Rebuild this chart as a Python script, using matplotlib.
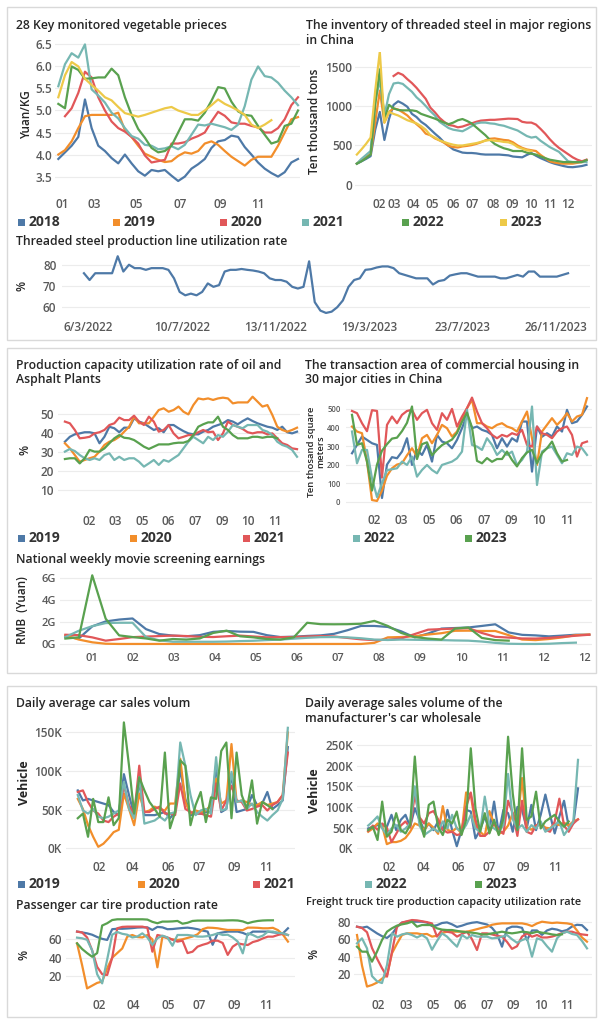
import numpy as np
import matplotlib
matplotlib.use('Agg')
import matplotlib.pyplot as plt
from matplotlib.patches import Rectangle

W, H = 603, 1024
plt.rcParams['font.family'] = ['Open Sans', 'DejaVu Sans']

C18, C19, C20, C21, C22, C23 = '#4e79a7', '#f28e2b', '#e15759', '#76b7b2', '#59a14f', '#edc948'
TICK = '#595959'

# ---- 28 key vegetable prices (Yuan/KG) ----
veg_2018 = [3.9, 4.05, 4.2, 4.4, 5.25, 4.6, 4.2, 4.08, 3.92, 3.8, 4.0, 3.8, 3.62, 3.52, 3.65, 3.62, 3.65, 3.52, 3.4,
            3.5, 3.68, 3.78, 3.9, 4.15, 4.3, 4.33, 4.43, 4.4, 4.17, 4.0, 3.82, 3.68, 3.58, 3.5, 3.6, 3.82, 3.9]
veg_2019 = [4.0, 4.1, 4.3, 4.6, 4.87, 4.9, 4.9, 4.9, 4.9, 4.95, 4.55, 4.4, 4.2, 4.02, 3.95, 3.88, 3.83, 3.85, 3.97,
            4.05, 4.02, 4.08, 4.25, 4.3, 4.22, 4.08, 3.95, 3.85, 3.75, 3.88, 3.95, 3.95, 3.95, 4.2, 4.5, 4.8, 4.85]
veg_2020 = [4.87, 5.05, 5.4, 5.88, 5.75, 5.3, 5.0, 4.75, 4.6, 4.52, 4.4, 4.25, 3.98, 3.82, 3.85, 3.88, 4.25, 4.25,
            4.28, 4.36, 4.42, 4.5, 4.75, 4.97, 4.88, 4.73, 4.7, 4.7, 4.65, 4.62, 4.5, 4.5, 4.6, 4.8, 5.12, 5.3]
veg_2021 = [5.55, 6.05, 6.3, 6.2, 6.5, 5.48, 5.34, 5.18, 4.95, 4.82, 4.6, 4.42, 4.36, 4.22, 4.2, 4.12, 4.14, 4.19,
            4.12, 4.22, 4.45, 4.68, 4.66, 4.7, 4.66, 4.62, 4.56, 4.68, 5.1, 5.7, 6.0, 5.78, 5.75, 5.63, 5.45, 5.3, 5.12]
veg_2022 = [5.15, 5.05, 6.0, 5.92, 5.72, 5.73, 5.75, 5.75, 5.95, 5.8, 5.3, 4.9, 4.58, 4.38, 4.15, 4.05, 4.08, 4.2,
            4.5, 4.8, 4.8, 4.77, 4.95, 5.22, 5.53, 5.5, 5.2, 4.98, 4.9, 4.88, 4.65, 4.45, 4.25, 4.3, 4.65, 4.7, 5.0]
veg_2023 = [5.3, 5.8, 6.1, 6.0, 5.72, 5.58, 5.45, 5.3, 5.23, 5.08, 4.94, 4.9, 4.86, 4.9, 4.95, 5.0, 5.05, 5.08, 5.0,
            4.95, 4.9, 4.9, 5.0, 5.12, 5.25, 5.15, 5.08, 5.0, 4.9, 4.68, 4.6, 4.68, 4.78]
veg_ticks = [0.65, 5.4, 11.65, 18.25, 24.25, 29.9]
veg_tick_labels = ['01', '03', '05', '07', '09', '11']

# ---- threaded steel inventory (ten thousand tons) ----
inv_2018 = [270, 300, 330, 365, 700, 925, 570, 835, 1015, 1060, 1030, 990, 900, 860, 800, 760, 705, 650, 600, 540,
            495, 450, 430, 410, 405, 405, 400, 390, 385, 385, 385, 385, 380, 375, 360, 355, 350, 380, 405, 370,
            340, 315, 290, 270, 255, 240, 228, 225, 232, 240, 255]
inv_2019 = [270, 320, 360, 390, 790, 1195, 790, 925, 970, 955, 920, 880, 820, 770, 720, 650, 630, 590, 565, 535,
            495, 480, 475, 488, 495, 505, 520, 540, 565, 585, 590, 580, 570, 565, 540, 500, 470, 450, 440, 430,
            380, 340, 300, 285, 275, 270, 270, 270, 280, 290, 315]
inv_2020 = [1380, 1420, 1395, 1340, 1290, 1230, 1160, 1090, 980, 920, 850, 800, 760, 750, 730, 740, 760, 780, 800,
            815, 820, 825, 825, 830, 835, 840, 838, 835, 800, 790, 790, 765, 710, 650, 580, 520, 470, 430, 390, 350,
            320, 300, 320]
inv_2021 = [270, 330, 380, 430, 1060, 1330, 880, 1150, 1285, 1295, 1280, 1230, 1180, 1110, 1060, 1000, 935, 880,
            800, 760, 720, 700, 690, 680, 710, 745, 780, 790, 790, 780, 775, 760, 750, 730, 710, 690, 655, 620, 600,
            610, 560, 520, 480, 450, 420, 360, 300, 290, 290, 290, 290]
inv_2022 = [270, 300, 340, 385, 1015, 1465, 835, 1015, 970, 950, 945, 945, 945, 935, 900, 880, 860, 840, 815, 790,
            770, 790, 820, 835, 810, 780, 730, 680, 630, 570, 520, 490, 465, 450, 430, 430, 430, 410, 395, 385,
            360, 340, 320, 310, 300, 290, 290, 290, 290, 290, 315]
inv_2023 = [385, 450, 520, 600, 1195, 1690, 790, 925, 900, 880, 850, 820, 800, 780, 745, 700, 630, 600, 565, 545,
            525, 510, 500, 500, 510, 520, 530, 545, 560, 570, 560, 555, 545, 540, 520, 480, 460, 440, 430]
inv_ticks = [4.86, 8.2, 12.2, 16.5, 21.0, 25.2, 29.6, 33.9, 38.0, 42.0, 46.0]
inv_tick_labels = ['02', '03', '04', '05', '06', '07', '08', '09', '10', '11', '12']

# ---- threaded steel line utilization (%), weekly ----
util = [76, 72.8, 76, 76, 76, 76, 84, 76.8, 80, 78.4, 78.4, 77.6, 78.4, 78.4, 78.4, 77.6, 73.6, 67.2, 65.6, 66.4,
        65.6, 67.2, 71.2, 69.6, 70.4, 76.8, 77.6, 77.6, 78, 77.6, 77.3, 76.8, 76, 73.6, 72.8, 72.8, 72, 69.6, 68.8,
        69.6, 81.6, 62.4, 58.4, 57.3, 57.9, 60, 63.2, 69.6, 72.8, 73.6, 77.6, 77.9, 78.7, 79.2, 79.2, 78.4, 76, 75.2,
        74.4, 73.6, 73.6, 73.6, 70.7, 72.3, 72.8, 74.9, 75.5, 76, 76, 75.2, 74.4, 74.4, 74.4, 74.4, 73.6, 73.6, 74.4,
        75.2, 74.4, 76.8, 76.8, 74.4, 74.4, 74.4, 74.4, 75.2, 76]
util_ticks = [0.8, 17.4, 34, 50.6, 67.2, 83.8]
util_tick_labels = ['6/3/2022', '10/7/2022', '13/11/2022', '19/3/2023', '23/7/2023', '26/11/2023']

# ---- oil and asphalt plants utilization (%) ----
oil_2019 = [35.4, 38, 39.3, 39.8, 40.4, 40.4, 39.8, 34.6, 38, 43.3, 42.5, 40.4, 42.8, 42.8, 47.7, 46, 45.1, 43.3,
            41.6, 42.5, 40.4, 44.2, 44.2, 42.5, 41, 39.8, 39.3, 39.3, 40.7, 41.6, 43.3, 44.2, 45.1, 46.8, 46, 44.6,
            46.3, 47.7, 46.3, 45.1, 44.2, 43.3, 42.8, 41.6, 43.3, 40.4, 39.8, 40.7]
oil_2020 = [34.6, 31.9, 28.4, 24.9, 25.8, 26.7, 27.5, 30.2, 33.7, 35.4, 36.3, 38, 40.7, 43.3, 48.6, 45.1, 45.1, 45.1,
            48.6, 52.1, 53, 51.2, 52.1, 53.9, 51.2, 49.8, 54.7, 58.2, 57.7, 58.2, 57.4, 58.2, 58.6, 58.2, 55.6, 56.1,
            56.1, 56.1, 59.1, 56.5, 53.9, 54.7, 49.5, 43.3, 41.6, 40.7, 41.6, 42.8]
oil_2021 = [46, 45.1, 41.6, 37.2, 37.5, 38, 39.8, 40.4, 41.6, 44.2, 45.1, 48.1, 46.8, 46.8, 49.1, 46, 44.2, 48.6, 46,
            40.7, 41.6, 44.2, 39.8, 37.2, 38, 38.9, 38.9, 40.4, 41.6, 40.4, 40.7, 36.3, 39.8, 46, 44.2, 43.3, 42.1,
            40.4, 39.8, 40.4, 40.4, 39.3, 39.8, 37.2, 34.6, 33.7, 31.9, 31.5]
oil_2022 = [30.2, 31.6, 30.5, 28.4, 26.7, 25.8, 26.7, 25.8, 28.4, 29.3, 25.8, 27.5, 25.8, 26.7, 26.7, 24.9, 22.3, 24,
            25.8, 23.2, 25.8, 24.9, 26.7, 28.4, 31.9, 35.4, 38, 36.3, 34.6, 38, 36.3, 38.9, 38, 40.7, 44.2, 43.3, 42.5,
            44.2, 44.2, 44.2, 41.6, 40.7, 38.9, 35.4, 33.7, 32.8, 31.1, 27.5]
oil_2023 = [26.3, 26.7, 26.7, 24, 26.7, 31.1, 30.2, 30.2, 31.9, 34.6, 37.2, 38.9, 37.5, 37.2, 36.3, 34.6, 32.8, 31.6,
            32.8, 34, 34, 34, 34.6, 34.9, 34.9, 35.8, 38.9, 43.3, 44.6, 45.6, 45.6, 48.6, 43.3, 41.6, 38.9, 37.2, 37.2,
            37.2, 38, 38, 37.5, 38, 38, 37.2]
oil_ticks = [4.87, 10.25, 15.63, 21.0, 26.4, 31.8, 37.1, 42.5]
oil_tick_labels = ['02', '03', '05', '06', '07', '09', '10', '11']

# ---- commercial housing transaction area (ten thousand m2) ----
house_2019 = [261, 306, 351, 333, 315, 306, 20, 200, 240, 234, 270, 342, 198, 279, 252, 306, 216, 360, 324, 315, 288,
              333, 396, 468, 396, 405, 387, 378, 360, 288, 342, 297, 342, 324, 432, 432, 162, 405, 350, 369, 351, 405,
              378, 495, 423, 432, 468, 513]
house_2020 = [405, 378, 369, 216, 9, 4, 60, 140, 180, 200, 207, 250, 288, 243, 342, 360, 315, 360, 414, 396, 351, 378,
              441, 504, 549, 423, 423, 405, 396, 414, 423, 405, 396, 378, 432, 486, 342, 198, 378, 414, 450, 414, 441,
              477, 432, 459, 468, 558]
house_2021 = [489, 477, 423, 380, 493, 489, 130, 414, 459, 423, 468, 489, 495, 441, 477, 495, 423, 387, 477, 441, 500,
              405, 459, 504, 561, 486, 423, 396, 360, 342, 360, 351, 369, 360, 387, 306, 297, 405, 369, 360, 342, 378,
              396, 405, 360, 243, 315, 324]
house_2022 = [378, 207, 279, 279, 126, 25, 100, 170, 175, 180, 216, 198, 243, 135, 171, 198, 171, 153, 198, 207, 216,
              234, 270, 495, 306, 297, 279, 342, 306, 252, 279, 252, 270, 198, 225, 270, 513, 90, 270, 288, 297, 252,
              207, 261, 252, 297, 288, 252]
house_2023 = [468, 306, 315, 216, 60, 200, 275, 310, 340, 345, 380, 425, 513, 230, 310, 320, 250, 280, 305, 320, 335,
              370, 430, 480, 400, 220, 207, 235, 215, 230, 230, 270, 225, 190, 235, 265, 280, 207, 261, 288, 324, 261,
              216, 225]
house_ticks = [4.4, 9.9, 15.4, 20.9, 26.4, 31.9, 37.4, 42.9]
house_tick_labels = ['02', '03', '05', '06', '07', '09', '10', '11']

# ---- weekly movie earnings (billion yuan, "G") ----
movie_2019 = [0.63, 0.5, 1.6, 2.05, 2.22, 2.32, 1.35, 0.9, 0.76, 0.7, 0.8, 1.1, 1.18, 1.12, 1.1, 0.8, 0.63, 0.66, 0.73,
              0.78, 0.92, 1.25, 1.64, 1.64, 1.55, 1.15, 0.6, 0.95, 1.4, 1.45, 1.5, 1.64, 1.79, 1.05, 0.83, 0.78, 0.69,
              0.76, 0.84, 0.84]
movie_2020 = [0.78, 0.4, 0.15, 0.02, 0, 0, 0, 0, 0, 0, 0, 0, 0, 0, 0, 0, 0, 0, 0, 0, 0, 0, 0, 0.1, 0.6, 0.63, 0.7, 0.86,
              0.98, 1.2, 1.21, 1.18, 1.18, 0.8, 0.4, 0.35, 0.45, 0.6, 0.8, 0.86]
movie_2021 = [0.84, 0.8, 0.6, 0.3, 0.45, 0.62, 0.67, 0.72, 0.76, 0.72, 0.65, 0.63, 0.7, 0.76, 0.68, 0.6, 0.62, 0.63,
              0.68, 0.72, 0.68, 0.55, 0.42, 0.35, 0.38, 0.5, 0.9, 1.3, 1.35, 1.4, 1.44, 1.0, 0.65, 0.58, 0.5, 0.49,
              0.55, 0.65, 0.75, 0.84]
movie_2022 = [0.63, 1.2, 1.62, 1.9, 1.93, 1.93, 0.63, 0.33, 0.2, 0.2, 0.2, 0.2, 0.22, 0.26, 0.29, 0.35, 0.4, 0.48,
              0.56, 0.62, 0.63, 0.6, 0.52, 0.4, 0.36, 0.4, 0.38, 0.36, 0.35, 0.32, 0.3, 0.22, 0.1, 0.02, 0.0, 0.0,
              0.02, 0.08, 0.12]
movie_2023 = [0.49, 0.6, 6.25, 2.3, 0.78, 0.63, 0.5, 0.3, 0.45, 0.4, 0.5, 1.0, 1.21, 0.7, 0.6, 0.45, 0.4, 0.6, 1.93,
              1.8, 1.79, 1.8, 1.84, 2.1, 1.64, 1.0, 0.63, 0.49, 0.4, 1.4, 1.5, 0.55, 0.35, 0.3]
movie_ticks = [2.0 + 3.051 * i for i in range(13)]
movie_tick_labels = ['01', '02', '03', '04', '05', '06', '07', '08', '09', '10', '11', '12', '12']

# ---- daily average car sales (K vehicles) ----
car_2019 = [75, 62, 64, 62, 60, 58, 56, 47, 43, 96, 69, 43, 86, 43, 43, 43, 45, 47, 39, 47, 103, 64, 43, 45, 45, 47,
            47, 107, 47, 51, 96, 47, 49, 51, 69, 56, 58, 73, 51, 56, 62, 131]
car_2020 = [64, 51, 30, 15, 2, 6, 13, 21, 24, 71, 51, 30, 71, 47, 49, 54, 51, 49, 58, 58, 116, 60, 45, 49, 47, 49, 56,
            90, 58, 62, 135, 60, 62, 60, 56, 56, 60, 56, 58, 60, 69, 150]
car_2021 = [73, 75, 60, 49, 45, 36, 34, 41, 45, 81, 56, 43, 107, 47, 47, 51, 54, 45, 45, 43, 84, 51, 47, 45, 45, 43,
            41, 84, 49, 62, 81, 62, 60, 49, 51, 54, 56, 49, 56, 60, 69, 124]
car_2022 = [69, 49, 45, 51, 41, 39, 41, 45, 49, 86, 51, 39, 92, 32, 34, 36, 41, 36, 45, 47, 137, 107, 69, 43, 49, 51,
            45, 118, 49, 51, 99, 60, 62, 51, 58, 47, 41, 36, 43, 49, 64, 156]
car_2023 = [39, 45, 15, 64, 34, 34, 66, 30, 39, 163, 107, 45, 92, 75, 60, 51, 41, 124, 26, 47, 114, 107, 30, 56, 73,
            34, 66, 64, 126, 137, 39, 124, 69, 51, 88, 32, 60, 56, 51]
car_ticks = [4.1, 10.7, 17.6, 23.7, 30.6, 36.8]
car_tick_labels = ['02', '04', '06', '07', '09', '11']

# ---- manufacturer wholesale (K vehicles) ----
whole_2019 = [48, 52, 56, 56, 52, 81, 44, 69, 81, 52, 97, 69, 44, 60, 44, 65, 44, 93, 44, 5, 44, 93, 89, 24, 44, 77,
              44, 113, 36, 93, 85, 40, 100, 93, 48, 105, 44, 81, 130, 81, 36, 77, 115, 52, 60, 145]
whole_2020 = [40, 48, 60, 55, 10, 15, 15, 18, 25, 40, 60, 55, 45, 60, 50, 35, 102, 45, 40, 50, 35, 135, 130, 55, 40,
              30, 90, 60, 35, 40, 55, 85, 60, 170, 50, 45, 55, 60, 50, 48, 60, 56, 62, 55, 65, 70]
whole_2021 = [42, 55, 45, 60, 50, 15, 35, 55, 65, 50, 130, 75, 60, 85, 90, 70, 45, 38, 40, 32, 35, 100, 135, 70, 30,
              30, 40, 60, 45, 35, 115, 85, 30, 115, 40, 35, 55, 60, 45, 40, 65, 120, 55, 40, 60, 70]
whole_2022 = [55, 65, 77, 48, 32, 48, 56, 40, 48, 60, 150, 56, 32, 40, 48, 40, 65, 48, 81, 48, 40, 56, 81, 48, 40,
              125, 56, 48, 40, 56, 180, 70, 48, 56, 40, 56, 48, 65, 40, 48, 56, 65, 32, 48, 65, 214]
whole_2023 = [44, 52, 20, 113, 28, 40, 85, 44, 36, 56, 222, 73, 28, 105, 113, 52, 32, 69, 60, 89, 32, 69, 242, 97, 40,
              85, 36, 69, 32, 73, 270, 133, 44, 242, 69, 77, 137, 48, 65, 73, 81, 65, 52, 65]
whole_ticks = [4.5, 11.8, 19.3, 25.9, 33.2, 40.1]
whole_tick_labels = ['02', '04', '06', '07', '09', '11']

# ---- passenger car tire production rate (%) ----
pass_2019 = [68.4, 67.5, 66.5, 65, 62.5, 60.5, 59.3, 71, 71.5, 71.5, 71.8, 72.2, 72.8, 73, 73, 70.2, 73.5, 73, 71,
             71.2, 71.8, 72.3, 72.7, 72, 71, 69.5, 68.4, 54, 66.5, 67.5, 68.4, 68.4, 68.4, 67, 64.7, 68.4, 68.4, 68.4,
             68.4, 67.6, 67, 66.5, 72]
pass_2020 = [55.6, 32, 6.5, 9.5, 12.5, 14, 28.4, 40, 45, 50, 62.9, 64.7, 62.5, 62, 64.7, 60, 29.5, 62.9, 61.1, 60,
             59.3, 60, 61.5, 63, 65.5, 71, 72.7, 72.5, 72, 71, 70.2, 70.2, 70.2, 70, 72.7, 72.7, 72.5, 72, 72, 72.5,
             70, 65, 57.5]
pass_2021 = [68.4, 67.5, 62, 48, 30, 22, 21.1, 40, 72, 73.5, 73.8, 73.8, 73.8, 73.8, 72.5, 46.5, 64.7, 63.5, 62, 59.5,
             57.5, 58.5, 45, 46.5, 52, 54, 55.6, 58.5, 58.5, 56, 43, 52, 55.6, 54.5, 53.8, 57, 58.5, 61, 62.9, 62.9,
             64.7, 66, 64.7]
pass_2022 = [61.8, 61.1, 59.5, 48, 22, 12, 38, 65, 68, 66, 65, 62, 63, 66.5, 62, 54, 61.1, 64, 62, 53, 64.7, 64.7,
             64.7, 64, 63, 62.9, 63.5, 64.7, 66.5, 64.7, 65, 62, 57.5, 44.7, 66.5, 64.7, 62, 64, 68.4, 68.4, 67, 66.5,
             64.7]
pass_2023 = [55.6, 49.5, 45, 41, 45, 75, 77.5, 81, 81.8, 81.8, 81.8, 81.8, 81.8, 81.8, 81.5, 79, 77.5, 79.3, 79.3,
             79.5, 80, 77, 78, 80, 80.4, 80.4, 80.4, 80.4, 80.4, 80.4, 80.6, 80.7, 80.5, 79.5, 77.5, 79, 80, 80.5,
             80.7, 80.7]
pass_ticks = [4.4, 11.1, 18.1, 24.4, 31.4, 37.7]
pass_tick_labels = ['02', '04', '05', '07', '09', '11']

# ---- freight truck tire capacity utilization (%) ----
freight_2019 = [74.3, 73.2, 74.3, 70.5, 66.7, 63.5, 61.5, 66, 74, 79, 80, 80, 80, 80, 79, 75, 76, 78.5, 79.2, 77, 74,
                75.5, 77.5, 78.8, 79.5, 78.1, 76.8, 73, 66, 51.5, 72, 74.3, 74.3, 73, 59, 70, 70, 65, 70, 72, 71, 69,
                70.5, 74.5, 76.5, 76, 70.5]
freight_2020 = [64.8, 30, 6, 7.8, 10.5, 15, 19, 44, 55, 64.8, 66.7, 66.7, 66.7, 65.6, 66, 63, 64, 67, 68.6, 68.6,
                68.6, 68.6, 68.6, 70, 71.5, 73, 74.3, 76.5, 77.5, 78.1, 78.1, 78.1, 78.1, 78.1, 77, 75, 78, 80, 79.2,
                78.5, 79, 78.5, 78.1, 77, 70, 62, 57.2]
freight_2021 = [74.3, 72.8, 68, 50, 38, 27, 17.3, 45.8, 74.3, 79, 80.5, 81.9, 81.5, 80.5, 79.5, 78, 63, 70.5, 68.6,
                67.5, 63, 66, 68.6, 60, 47.7, 66.7, 66.7, 65.5, 64, 62.9, 57, 49, 52, 63, 66.7, 62.9, 64.8, 62, 62, 63,
                64.8, 67, 68.6, 68.6, 66.7, 65.5, 64.8]
freight_2022 = [55.3, 61, 49.6, 18, 12, 10, 30.6, 66.7, 62.9, 65.5, 66.7, 64.8, 62, 64.8, 61, 48, 58, 66.7, 63, 57,
                51.5, 64.8, 61, 64.8, 63, 62.9, 62.9, 61, 61.5, 62.9, 64.8, 60, 56, 59, 61, 40.1, 61, 59.1, 52, 45.8,
                61, 66.7, 68.6, 66, 64.8, 58, 49.6]
freight_2023 = [51.5, 45.8, 45.8, 34.4, 45.8, 59.1, 68.6, 72.5, 75.5, 77, 78.1, 80, 74.3, 76.2, 76.2, 76.2, 72.4, 71,
                70.5, 70.5, 69.5, 68.6, 68, 67.5, 66.7, 65.5, 65.5, 66.7, 67.5, 68.6, 67.5, 66.7, 67.5, 68.6, 68, 67,
                68.6, 67.5, 66.7, 65.5, 64.8, 65.6]
freight_ticks = [4.3, 9.9, 15.2, 20.7, 26.0, 31.3, 36.7, 42.0]
freight_tick_labels = ['02', '03', '05', '06', '07', '09', '10', '11']


fig = plt.figure(figsize=(W / 100, H / 100), dpi=100)


def px_axes(l, t, r, b):
    ax = fig.add_axes([l / W, 1 - b / H, (r - l) / W, (b - t) / H])
    for s in ax.spines.values():
        s.set_visible(False)
    ax.grid(axis='y', color='#ececec', lw=0.8)
    ax.set_axisbelow(True)
    return ax


def style(ax, xt, xl, yt, yl, xs=8.5, ys=8.5, xpad=4, ypad=2):
    ax.set_xticks(xt, xl, fontsize=xs, fontweight='semibold', color=TICK)
    ax.set_yticks(yt, yl, fontsize=ys, fontweight='semibold', color=TICK)
    ax.tick_params(axis='x', pad=xpad, length=0)
    ax.tick_params(axis='y', pad=ypad, length=0)


def line(ax, ys, color, start=0):
    ax.plot(start + np.arange(len(ys)), ys, color=color, lw=1.6, solid_joinstyle='round')


def txt(x, y, s, size=8.8, weight='semibold', color='#262626', **kw):
    fig.text(x / W, 1 - y / H, s, fontsize=size, fontweight=weight, color=color, va='center', **kw)


def legend_row(y, items):
    for x, year, c in items:
        fig.patches.append(Rectangle((x / W, 1 - (y + 3.5) / H), 7 / W, 7 / H, transform=fig.transFigure,
                                     fc=c, ec='none'))
        txt(x + 11, y, year, size=10, weight='bold', color='#333333')


# section boxes
for t, b in [(7, 340), (348, 673), (686, 1017)]:
    fig.patches.append(Rectangle((7 / W, 1 - b / H), 589 / W, (b - t) / H, transform=fig.transFigure,
                                 fill=False, ec='#d9d9d9', lw=1))

# --- A: vegetable prices
ax = px_axes(55, 40, 300, 192)
for ys, c, s in [(veg_2018, C18, 0), (veg_2019, C19, 0), (veg_2020, C20, 1), (veg_2021, C21, 0),
                 (veg_2022, C22, 0), (veg_2023, C23, 0)]:
    line(ax, ys, c, s)
ax.set_xlim(-0.5, 36.3)
ax.set_ylim(3.15, 6.6)
style(ax, veg_ticks, veg_tick_labels, [3.5, 4, 4.5, 5, 5.5, 6, 6.5],
      ['3.5', '4.0', '4.5', '5.0', '5.5', '6.0', '6.5'])
txt(16, 25, '28 Key monitored vegetable prieces')
txt(27, 115, 'Yuan/KG', size=8.5, rotation=90, ha='center')

# --- B: inventory
ax = px_axes(355, 52, 592, 192)
for ys, c, s in [(inv_2018, C18, 0), (inv_2019, C19, 0), (inv_2020, C20, 8), (inv_2021, C21, 0),
                 (inv_2022, C22, 0), (inv_2023, C23, 0)]:
    line(ax, ys, c, s)
ax.set_xlim(-0.4, 51.2)
ax.set_ylim(-89, 1684)
style(ax, inv_ticks, inv_tick_labels, [0, 500, 1000, 1500], ['0', '500', '1000', '1500'])
txt(306, 25, 'The inventory of threaded steel in major regions')
txt(306, 41, 'in China')
txt(315, 121, 'Ten thousand tons', size=8.5, rotation=90, ha='center')

legend_row(222, [(18, '2018', C18), (113, '2019', C19), (220, '2020', C20),
                 (302, '2021', C21), (402, '2022', C22), (500, '2023', C23)])

# --- C: utilization rate
ax = px_axes(62, 252, 590, 314)
line(ax, util, C18)
ax.set_xlim(-3.9, 89.9)
ax.set_ylim(56.8, 86)
style(ax, util_ticks, util_tick_labels, [60, 70, 80], ['60', '70', '80'], xpad=5, ypad=4)
txt(16, 242, 'Threaded steel production line utilization rate')
txt(22, 286, '%', size=8.5, rotation=90, ha='center')

# --- D: oil and asphalt
ax = px_axes(58, 395, 300, 509)
for ys, c in [(oil_2019, C18), (oil_2020, C19), (oil_2021, C20), (oil_2022, C21), (oil_2023, C22)]:
    line(ax, ys, c)
ax.set_xlim(-1.4, 47.6)
ax.set_ylim(0, 60)
style(ax, oil_ticks, oil_tick_labels, [10, 20, 30, 40, 50], ['10', '20', '30', '40', '50'], xpad=4, ypad=3)
txt(16, 365, 'Production capacity utilization rate of oil and')
txt(16, 380, 'Asphalt Plants')
txt(25, 450, '%', size=8.5, rotation=90, ha='center')

# --- E: commercial housing
ax = px_axes(346, 395, 592, 508)
for ys, c in [(house_2019, C18), (house_2020, C19), (house_2021, C20), (house_2022, C21), (house_2023, C22)]:
    line(ax, ys, c)
ax.set_xlim(-1.2, 48)
ax.set_ylim(-34, 575)
style(ax, house_ticks, house_tick_labels, [0, 100, 200, 300, 400, 500],
      ['0', '100', '200', '300', '400', '500'], ys=5.6, xpad=4, ypad=4)
txt(305, 365, 'The transaction area of commercial housing in')
txt(305, 380, '30 major cities in China')
txt(316, 452, 'Ten thosand square\nmeters', size=6.8, rotation=90, ha='center', linespacing=1.05)

legend_row(538, [(18, '2019', C18), (130, '2020', C19), (243, '2021', C20),
                 (353, '2022', C21), (465, '2023', C22)])

# --- F: movie earnings
ax = px_axes(60, 572, 592, 650)
for ys, c in [(movie_2019, C18), (movie_2020, C19), (movie_2021, C20), (movie_2022, C21), (movie_2023, C22)]:
    line(ax, ys, c)
ax.set_xlim(-0.4, 39.2)
ax.set_ylim(-0.55, 6.55)
style(ax, movie_ticks, movie_tick_labels, [0, 2, 4, 6], ['0G', '2G', '4G', '6G'], xs=8, ys=8, xpad=2, ypad=3)
txt(16, 560, 'National weekly movie screening earnings')
txt(22, 610, 'RMB  (Yuan)', size=8.5, rotation=90, ha='center')

# --- G: car sales
ax = px_axes(66, 718, 295, 853)
for ys, c in [(car_2019, C18), (car_2020, C19), (car_2021, C20), (car_2022, C21), (car_2023, C22)]:
    line(ax, ys, c)
ax.set_xlim(-2.3, 42.4)
ax.set_ylim(-6, 168.7)
style(ax, car_ticks, car_tick_labels, [0, 50, 100, 150], ['0K', '50K', '100K', '150K'], xpad=6, ypad=3)
txt(16, 704, 'Daily average car sales volum')
txt(25, 783, 'Vehicle', size=9, weight='bold', rotation=90, ha='center')

# --- H: wholesale
ax = px_axes(357, 733, 592, 853)
for ys, c in [(whole_2019, C18), (whole_2020, C19), (whole_2021, C20), (whole_2022, C21), (whole_2023, C22)]:
    line(ax, ys, c)
ax.set_xlim(-2.4, 48)
ax.set_ylim(-11.4, 279)
style(ax, whole_ticks, whole_tick_labels, [0, 50, 100, 150, 200, 250],
      ['0K', '50K', '100K', '150K', '200K', '250K'], xpad=6, ypad=3)
txt(305, 703, 'Daily average sales volume of the')
txt(305, 718, "manufacturer's car wholesale")
txt(314, 791, 'Vehicle', size=9, weight='bold', rotation=90, ha='center')

legend_row(884, [(18, '2019', C18), (138, '2020', C19), (253, '2021', C20),
                 (365, '2022', C21), (475, '2023', C22)])

# --- I: passenger car tire
ax = px_axes(66, 917, 295, 992)
for ys, c in [(pass_2019, C18), (pass_2020, C19), (pass_2021, C20), (pass_2022, C21), (pass_2023, C22)]:
    line(ax, ys, c)
ax.set_xlim(-2.2, 43.4)
ax.set_ylim(2.6, 84.3)
style(ax, pass_ticks, pass_tick_labels, [20, 40, 60], ['20', '40', '60'], xpad=5, ypad=3)
txt(16, 905, 'Passenger car tire production rate')
txt(24, 955, '%', size=8.5, rotation=90, ha='center')

# --- J: freight truck tire
ax = px_axes(354, 916, 592, 992)
for ys, c in [(freight_2019, C18), (freight_2020, C19), (freight_2021, C20), (freight_2022, C21),
              (freight_2023, C22)]:
    line(ax, ys, c)
ax.set_xlim(-0.6, 47)
ax.set_ylim(-0.2, 86.5)
style(ax, freight_ticks, freight_tick_labels, [20, 40, 60, 80], ['20', '40', '60', '80'], xpad=5, ypad=2)
txt(306, 903, 'Freight truck tire production capacity utilization rate', size=7.8)
txt(314, 954, '%', size=8.5, rotation=90, ha='center')

fig.savefig('out.png', dpi=100, facecolor='white')
